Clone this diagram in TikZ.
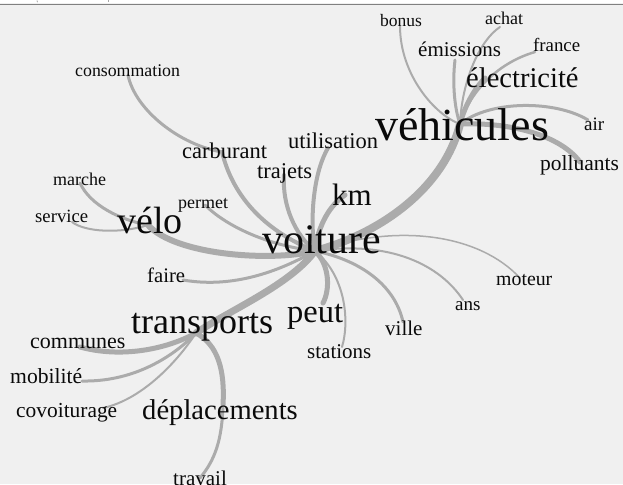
\documentclass[tikz,border=0pt]{standalone}
\usepackage{fontspec}
\setmainfont{Liberation Serif}
\definecolor{bg}{HTML}{F0F0F0}
\definecolor{edge}{HTML}{ABABAB}
\definecolor{txt}{HTML}{0A0A0A}
\newcommand\wsz[1]{\fontsize{#1}{#1}\selectfont}
\tikzset{
  word/.style={anchor=base west, inner sep=0pt, text=txt},
  link/.style={draw=edge, line cap=round, line join=round},
}
\begin{document}
\begin{tikzpicture}[x=1pt,y=-1pt]
\useasboundingbox (0,0) rectangle (623,484);
\fill[bg] (0,0) rectangle (623,484);
\fill[white] (0,0) rectangle (623,3.5);
\draw[gray, line width=1.3pt] (0,4.2) -- (623,4.2);
\draw[gray!70, line width=0.8pt] (37,0.5) -- (37.5,2.2);
\draw[gray!70, line width=0.8pt] (108,0.5) -- (108,2.2);

% hubs and ends
\coordinate (V) at (315,251);
\coordinate (H) at (460,124);
\coordinate (T) at (196,333);
\coordinate (L) at (148,225);
\coordinate (C) at (222,152);
\coordinate (D) at (223,405);
\coordinate (eK) at (345,195);
\coordinate (eU) at (328,148);
\coordinate (eTr) at (284,175);
\coordinate (eCo) at (128,75);
\coordinate (eP) at (205,205);
\coordinate (eF) at (183,280);
\coordinate (ePe) at (323,303);
\coordinate (eSt) at (342,347);
\coordinate (eVi) at (403,322);
\coordinate (eAn) at (463,300);
\coordinate (eMo) at (520,278);
\coordinate (eB) at (400,26);
\coordinate (eA) at (500,27);
\coordinate (eEm) at (455,60);
\coordinate (eFr) at (535,52);
\coordinate (eEl) at (485,78);
\coordinate (eAi) at (588,120);
\coordinate (ePo) at (580,162);
\coordinate (eCm) at (80,347);
\coordinate (eMb) at (82,381);
\coordinate (eCv) at (103,408);
\coordinate (eTv) at (200,478);
\coordinate (eM) at (80,183);
\coordinate (eSe) at (72,222);

% connectors from voiture
\draw[link, line width=8pt] (V) .. controls (385,232) and (445,185) .. (H);
\draw[link, line width=5pt] (V) .. controls (318,225) and (330,205) .. (eK);
\draw[link, line width=4pt] (V) .. controls (310,225) and (312,175) .. (eU);
\draw[link, line width=4pt] (V) .. controls (295,235) and (282,205) .. (eTr);
\draw[link, line width=4pt] (V) .. controls (275,235) and (235,205) .. (C);
\draw[link, line width=3pt] (C) .. controls (180,145) and (135,110) .. (eCo);
\draw[link, line width=3pt] (V) .. controls (265,245) and (225,225) .. (eP);
\draw[link, line width=6pt] (V) .. controls (270,262) and (175,255) .. (L);
\draw[link, line width=3pt] (V) .. controls (290,265) and (240,290) .. (eF);
\draw[link, line width=7pt] (V) .. controls (290,285) and (230,310) .. (T);
\draw[link, line width=5pt] (V) .. controls (330,265) and (330,290) .. (ePe);
\draw[link, line width=2pt] (V) .. controls (345,275) and (350,320) .. (eSt);
\draw[link, line width=3pt] (V) .. controls (360,260) and (395,285) .. (eVi);
\draw[link, line width=2pt] (V) .. controls (390,240) and (440,265) .. (eAn);
\draw[link, line width=1.5pt] (V) .. controls (400,222) and (480,235) .. (eMo);
% from vehicules
\draw[link, line width=2pt] (H) .. controls (435,115) and (400,75) .. (eB);
\draw[link, line width=2pt] (H) .. controls (462,80) and (480,40) .. (eA);
\draw[link, line width=3pt] (H) .. controls (455,110) and (452,85) .. (eEm);
\draw[link, line width=2.5pt] (H) .. controls (470,90) and (500,62) .. (eFr);
\draw[link, line width=5pt] (H) .. controls (465,105) and (475,88) .. (eEl);
\draw[link, line width=3pt] (H) .. controls (490,100) and (555,100) .. (eAi);
\draw[link, line width=5pt] (H) .. controls (510,122) and (560,135) .. (ePo);
% from transports
\draw[link, line width=5pt] (T) .. controls (165,350) and (120,358) .. (eCm);
\draw[link, line width=3pt] (T) .. controls (170,360) and (130,382) .. (eMb);
\draw[link, line width=2pt] (T) .. controls (175,365) and (140,400) .. (eCv);
\draw[link, line width=5pt] (T) .. controls (218,345) and (225,370) .. (D);
\draw[link, line width=3pt] (D) .. controls (222,440) and (215,460) .. (eTv);
% from velo
\draw[link, line width=3pt] (L) .. controls (120,220) and (90,205) .. (eM);
\draw[link, line width=2pt] (L) .. controls (120,234) and (85,232) .. (eSe);

% words
\node[word, font=\wsz{42}] (voiture) at (262,253) {voiture};
\node[word, font=\wsz{46}] (vehicules) at (375,140) {véhicules};
\node[word, font=\wsz{28.5}] (electricite) at (466,88) {électricité};
\node[word, font=\wsz{21}] (emissions) at (418,57) {émissions};
\node[word, font=\wsz{17.5}] (bonus) at (380,27) {bonus};
\node[word, font=\wsz{18}] (achat) at (485,25) {achat};
\node[word, font=\wsz{18.8}] (france) at (533,52) {france};
\node[word, font=\wsz{19}] (air) at (584,130) {air};
\node[word, font=\wsz{21.5}] (polluants) at (540,170) {polluants};
\node[word, font=\wsz{17.8}] (consommation) at (75,77) {consommation};
\node[word, font=\wsz{22.5}] (carburant) at (182,158) {carburant};
\node[word, font=\wsz{18}] (marche) at (53,185) {marche};
\node[word, font=\wsz{18.7}] (service) at (35,222) {service};
\node[word, font=\wsz{38}] (velo) at (117,233) {vélo};
\node[word, font=\wsz{18}] (permet) at (178,208) {permet};
\node[word, font=\wsz{22.5}] (trajets) at (257,178) {trajets};
\node[word, font=\wsz{22.5}] (utilisation) at (288,148) {utilisation};
\node[word, font=\wsz{31}] (km) at (332,205) {km};
\node[word, font=\wsz{20.7}] (faire) at (147,282) {faire};
\node[word, font=\wsz{36}] (transports) at (131,333) {transports};
\node[word, font=\wsz{32.5}] (peut) at (287,322) {peut};
\node[word, font=\wsz{22}] (communes) at (30,348) {communes};
\node[word, font=\wsz{21.6}] (mobilite) at (10,383) {mobilité};
\node[word, font=\wsz{21.4}] (covoiturage) at (16,417) {covoiturage};
\node[word, font=\wsz{28.6}] (deplacements) at (142,419) {déplacements};
\node[word, font=\wsz{21}] (travail) at (173,485) {travail};
\node[word, font=\wsz{21}] (stations) at (307,358) {stations};
\node[word, font=\wsz{21}] (ville) at (385,335) {ville};
\node[word, font=\wsz{19}] (ans) at (455,310) {ans};
\node[word, font=\wsz{19.8}] (moteur) at (496,285) {moteur};
\end{tikzpicture}
\end{document}
